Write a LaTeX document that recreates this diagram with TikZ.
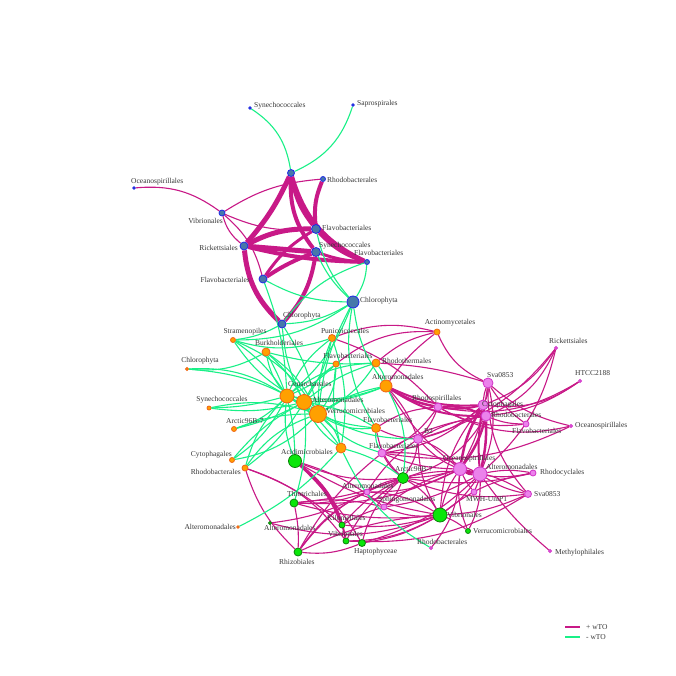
\documentclass[tikz,border=0pt]{standalone}
\usepackage{fontspec}
\setmainfont{Liberation Serif}
\pgfdeclarelayer{bg}
\pgfdeclarelayer{edges}
\pgfsetlayers{bg,edges,main}
\definecolor{pos}{RGB}{200,25,135}
\definecolor{neg}{RGB}{25,240,135}
\definecolor{bfill}{RGB}{70,120,170}
\definecolor{bdraw}{RGB}{30,40,230}
\definecolor{ofill}{RGB}{255,160,0}
\definecolor{odraw}{RGB}{240,100,20}
\definecolor{gfill}{RGB}{10,230,10}
\definecolor{gdraw}{RGB}{10,130,10}
\definecolor{pfill}{RGB}{235,130,235}
\definecolor{pdraw}{RGB}{210,50,200}
\definecolor{txt}{RGB}{55,55,55}
\begin{document}
\begin{tikzpicture}[x=1pt,y=-1pt,
  nd/.style={circle,inner sep=0pt,line width=0.8pt,minimum size=#1pt},
  nb/.style={nd=#1,fill=bfill,draw=bdraw},
  no/.style={nd=#1,fill=ofill,draw=odraw},
  ng/.style={nd=#1,fill=gfill,draw=gdraw},
  np/.style={nd=#1,fill=pfill,draw=pdraw},
  pe/.style={draw=pos,line width=1.1pt},
  ne/.style={draw=neg,line width=1.1pt},
  lbl/.style={font=\fontsize{7.5}{8}\selectfont,text=txt,inner sep=0pt}]
\begin{pgfonlayer}{bg}
\fill[white] (0,0) rectangle (676,676);
\end{pgfonlayer}
\useasboundingbox (0,0) rectangle (676,676);
% ---------- blue nodes
\node[nb=7] (bA) at (291,173) {};
\node[nb=2.5] (bSyn1) at (250,108) {};
\node[nb=2.5] (bSap) at (353,105) {};
\node[nb=2.5] (bOce) at (134,188) {};
\node[nb=5] (bRho) at (323,179) {};
\node[nb=6] (bVib) at (222,213) {};
\node[nb=9] (bFla1) at (316,229) {};
\node[nb=8] (bRic) at (244,246) {};
\node[nb=9] (bSyn2) at (316,252) {};
\node[nb=5] (bFla2) at (367,262) {};
\node[nb=8] (bFla3) at (263,279) {};
\node[nb=12] (bChl1) at (353,302) {};
\node[nb=8] (bChl2) at (282,324) {};
% ---------- orange nodes
\node[no=5] (oStr) at (233,340) {};
\node[no=8] (oBur) at (266,352) {};
\node[no=7] (oPun) at (332,338) {};
\node[no=3] (oChl) at (187,369) {};
\node[no=6] (oFla1) at (336,364) {};
\node[no=8] (oRht) at (376,363) {};
\node[no=6] (oAct) at (437,332) {};
\node[no=14] (oCen) at (287,396) {};
\node[no=15] (oAlt1) at (304,402) {};
\node[no=17] (oVer) at (318,414) {};
\node[no=12] (oAlt2) at (386,386) {};
\node[no=4] (oSyn) at (209,408) {};
\node[no=5] (oArc) at (234,429) {};
\node[no=9] (oFla2) at (376,428) {};
\node[no=10] (oX) at (341,448) {};
\node[no=5] (oCyt) at (232,460) {};
\node[no=6] (oRhb) at (245,468) {};
\node[no=2.5] (oAlt3) at (238,527) {};
% ---------- green nodes
\node[ng=13] (gAci) at (295,461) {};
\node[ng=8] (gThi) at (294,503) {};
\node[ng=3] (gAlt) at (270,523) {};
\node[ng=8] (gRhz) at (298,552) {};
\node[ng=6] (gKil) at (342,525) {};
\node[ng=6] (gVib1) at (346,541) {};
\node[ng=7] (gHap) at (362,543) {};
\node[ng=11] (gArc) at (403,478) {};
\node[ng=14] (gVib2) at (440,515) {};
\node[ng=5] (gVer) at (468,531) {};
% ---------- pink nodes
\node[np=10] (pSva1) at (488,383) {};
\node[np=8] (pRsp) at (438,407) {};
\node[np=10] (pCyt) at (483,405) {};
\node[np=10] (pRhb) at (486,416) {};
\node[np=6] (pFla1) at (526,424) {};
\node[np=3] (pRic) at (556,348) {};
\node[np=3] (pHTC) at (580,381) {};
\node[np=3] (pOce1) at (571,426) {};
\node[np=9] (pB2) at (418,439) {};
\node[np=8] (pFla2) at (382,453) {};
\node[np=13] (pOce2) at (460,469) {};
\node[np=14] (pAlt1) at (480,474) {};
\node[np=6] (pRcy) at (533,473) {};
\node[np=6] (pMWH) at (474,492) {};
\node[np=7] (pSva2) at (528,494) {};
\node[np=6] (pAlt2) at (367,492) {};
\node[np=6] (pSph) at (384,507) {};
\node[np=3] (pRhb2) at (431,548) {};
\node[np=3] (pMet) at (550,551) {};
% ---------- labels
\node[lbl,anchor=west] (t1) at (254,106) {Synechococcales};
\node[lbl,anchor=west] (t2) at (357,104) {Saprospirales};
\node[lbl,anchor=west] (t3) at (131,182) {Oceanospirillales};
\node[lbl,anchor=west] (t4) at (327,180) {Rhodobacterales};
\node[lbl,anchor=east] (t5) at (223,221) {Vibrionales};
\node[lbl,anchor=west] (t6) at (322,228) {Flavobacteriales};
\node[lbl,anchor=east] (t7) at (238,248) {Rickettsiales};
\node[lbl,anchor=west] (t8) at (319,246) {Synechococcales};
\node[lbl,anchor=west] (t9) at (354,253) {Flavobacteriales};
\node[lbl,anchor=east] (t10) at (250,280) {Flavobacteriales};
\node[lbl,anchor=west] (t11) at (360,301) {Chlorophyta};
\node[lbl,anchor=west] (t12) at (283,316) {Chlorophyta};
\node[lbl] (t13) at (245,332) {Stramenopiles};
\node[lbl] (t14) at (279,343) {Burkholderiales};
\node[lbl] (t15) at (345,331) {Puniceicoccales};
\node[lbl] (t16) at (200,361) {Chlorophyta};
\node[lbl] (t17) at (348,356) {Flavobacteriales};
\node[lbl,anchor=west] (t18) at (382,361) {Rhodothermales};
\node[lbl] (t19) at (450,323) {Actinomycetales};
\node[lbl,anchor=west] (t20) at (288,384) {Cenarchaeales};
\node[lbl,anchor=west] (t21) at (312,400) {Alteromonadales};
\node[lbl,anchor=west] (t22) at (326,411) {Verrucomicrobiales};
\node[lbl,anchor=west] (t23) at (372,377) {Alteromonadales};
\node[lbl] (t24) at (222,400) {Synechococcales};
\node[lbl,anchor=west] (t25) at (226,421) {Arctic96B-7};
\node[lbl,anchor=west] (t26) at (363,420) {Flavobacteriales};
\node[lbl,anchor=east] (t27) at (232,455) {Cytophagales};
\node[lbl,anchor=east] (t28) at (241,472) {Rhodobacterales};
\node[lbl,anchor=east] (t29) at (236,527) {Alteromonadales};
\node[lbl,anchor=west] (t30) at (281,452) {Acidimicrobiales};
\node[lbl,anchor=west] (t31) at (287,494) {Thiotrichales};
\node[lbl,anchor=west] (t32) at (264,528) {Alteromonadales};
\node[lbl,anchor=west] (t33) at (327,518) {Kiloniellales};
\node[lbl,anchor=west] (t34) at (328,534) {Vibrionales};
\node[lbl,anchor=west] (t35) at (354,552) {Haptophyceae};
\node[lbl,anchor=west] (t36) at (279,562) {Rhizobiales};
\node[lbl,anchor=west] (t37) at (395,469) {Arctic96B-7};
\node[lbl,anchor=west] (t38) at (447,515) {Vibrionales};
\node[lbl,anchor=west] (t39) at (473,531) {Verrucomicrobiales};
\node[lbl,anchor=west] (t40) at (487,375) {Sva0853};
\node[lbl,anchor=west] (t41) at (412,399) {Rhodospirillales};
\node[lbl,anchor=west] (t42) at (482,405) {Cytophagales};
\node[lbl,anchor=west] (t43) at (491,415) {Rhodobacterales};
\node[lbl,anchor=west] (t44) at (512,431) {Flavobacteriales};
\node[lbl,anchor=west] (t45) at (549,341) {Rickettsiales};
\node[lbl,anchor=west] (t46) at (575,373) {HTCC2188};
\node[lbl,anchor=west] (t47) at (575,426) {Oceanospirillales};
\node[lbl,anchor=west] (t48) at (424,431) {B2};
\node[lbl,anchor=west] (t49) at (369,446) {Flavobacteriales};
\node[lbl,anchor=west] (t50) at (443,459) {Oceanospirillales};
\node[lbl,anchor=west] (t51) at (486,467) {Alteromonadales};
\node[lbl,anchor=west] (t52) at (540,473) {Rhodocyclales};
\node[lbl,anchor=west] (t53) at (466,499) {MWH-UniP1};
\node[lbl,anchor=west] (t54) at (534,494) {Sva0853};
\node[lbl,anchor=west] (t55) at (342,486) {Alteromonadales};
\node[lbl,anchor=west] (t56) at (378,500) {Sphingomonadales};
\node[lbl,anchor=west] (t57) at (417,542) {Rhodobacterales};
\node[lbl,anchor=west] (t58) at (555,553) {Methylophilales};
% ---------- legend
\coordinate (lp1) at (565,627); \coordinate (lp2) at (580,627);
\coordinate (ln1) at (565,637); \coordinate (ln2) at (580,637);
\draw[pe] (lp1) -- (lp2);
\draw[ne] (ln1) -- (ln2);
\node[lbl,anchor=west] (lg1) at (586,627) {+ wTO};
\node[lbl,anchor=west] (lg2) at (586,637) {- wTO};
% ---------- edges
\begin{pgfonlayer}{edges}
% thick positive, blue cluster
\foreach \a/\b/\w/\k in {bA/bRic/5/8, bA/bFla1/4/-14, bA/bSyn2/4/-20, bA/bFla2/4/-24,
  bRho/bFla1/4/-14, bRic/bFla1/5/14, bRic/bSyn2/5/0, bRic/bFla2/4/-6, bRic/bChl2/5/-20,
  bFla3/bFla1/3/12, bFla3/bSyn2/4/6, bSyn2/bChl2/4/16, bFla1/bFla2/4/-14, bSyn2/bFla2/3/-8}
  \draw[pe,line width=\w pt] (\a) to[bend left=\k] (\b);
% thin positive
\foreach \a/\b/\k in {bOce/bVib/12, bVib/bRho/8, bVib/bFla1/-8, bVib/bRic/-10, bVib/bFla3/10,
  oPun/oAct/10, oPun/pRsp/8, oFla1/oAct/12, oRht/oAct/8, oAlt2/oAct/5, oAct/pSva1/-12,
  oRht/pSva1/4, oFla2/pB2/-6, oFla2/pRsp/8, oFla2/gArc/-10, oAlt2/pB2/6, oAlt2/pOce2/-6,
  oRhb/gRhz/-8, oRhb/gKil/6, oRhb/gVib1/10,
  gAci/gVib2/-6, gAci/gHap/4, gAci/gArc/-8, gAci/pSph/6,
  gThi/gRhz/4, gThi/gVib2/-6, gThi/gArc/-4, gThi/pAlt2/-6, gThi/pSph/6, gThi/pOce2/-8,
  gAlt/gVib2/-10, gAlt/pAlt2/-6,
  gRhz/gArc/10, gRhz/gVib2/6, gRhz/pAlt2/8, gRhz/pFla2/6, gRhz/gHap/-8,
  gKil/gArc/6, gKil/gVib2/-6, gKil/pSph/4,
  gVib1/gVib2/-8, gVib1/gArc/8, gVib1/pSva2/-10,
  gHap/gVib2/-6, gHap/gArc/10, gHap/pAlt1/-8,
  gArc/pFla2/6, gArc/pAlt2/-6, gArc/pSph/8, gArc/pB2/-8, gArc/pOce2/-4, gArc/pAlt1/6,
  gArc/gVib2/8, gArc/pRhb/-12, gArc/pSva2/-8, gArc/pRcy/-6,
  gVib2/gVer/5, gVib2/pOce2/6, gVib2/pAlt1/-6, gVib2/pB2/8, gVib2/pSva2/-6, gVib2/pRcy/8,
  gVib2/pAlt2/-8, gVib2/pSph/8, gVib2/pCyt/10,
  pSph/pAlt1/-6, pSph/pOce2/6, pAlt2/pOce2/-8, pAlt2/pB2/6,
  pFla2/pOce2/-6, pFla2/pAlt1/8, pFla2/pRsp/-8, pFla2/pCyt/-10, pFla2/pRhb/6,
  pB2/pCyt/-8, pB2/pRhb/6, pB2/pOce2/8, pB2/pAlt1/-10, pB2/pRsp/-6,
  pRsp/pFla1/-10, pRsp/pOce1/-12, pRsp/pHTC/-12,
  pCyt/pRic/-10, pCyt/pHTC/-12, pCyt/pSva1/-8,
  pRhb/pFla1/-6, pRhb/pRic/-12, pRhb/pHTC/-8,
  pSva1/pOce1/-8, pSva1/pFla1/-6, pSva1/pAlt1/10, pSva1/pOce2/6, pSva1/pRhb/-10, pSva1/pSva2/-12,
  pOce2/pRcy/-8, pOce2/pSva2/6, pOce2/pMWH/-4, pOce2/pRhb2/10, pOce2/gVer/-8,
  pAlt1/pRcy/6, pAlt1/pSva2/-6, pAlt1/pMWH/4, pAlt1/pMet/-4, pAlt1/gVer/8, pAlt1/pRic/-10,
  pOce1/pFla2/10, pRic/pB2/10}
  {\pgfmathsetmacro\kk{1.7*\k}
  \draw[pe] (\a) to[bend left=\kk] (\b);}
% medium positive
\foreach \a/\b/\w/\k in {oAlt2/pRsp/2.5/-6, oAlt2/pCyt/2/-8, oAlt2/pRhb/2/-10,
  gAci/gKil/2.5/8, gAci/gVib1/2/12, pRsp/pCyt/2/-6, pRsp/pRhb/2/8,
  pCyt/pOce2/2.5/-6, pCyt/pAlt1/2/-4, pRhb/pOce2/2.5/6, pRhb/pAlt1/2.5/4, pOce2/pAlt1/2/-10}
  {\pgfmathsetmacro\kk{1.7*\k}
  \draw[pe,line width=\w pt] (\a) to[bend left=\kk] (\b);}
% negative
\foreach \a/\b/\k in {bA/bSyn1/-14, bA/bSap/-14,
  bFla1/bChl1/-8, bSyn2/bChl1/-6, bFla2/bChl1/8, bFla2/bChl2/-10, bFla3/bChl1/-8, bFla3/oCen/5,
  bChl2/oStr/6, bChl2/oAlt1/-6, bChl2/oVer/6, bChl1/oStr/10, bChl1/oAlt2/-8, bChl1/oVer/-6,
  bChl1/oFla2/-12, bChl1/oCen/8, bChl2/bChl1/-8,
  oStr/oPun/-10, oStr/oCen/6, oStr/oAlt1/-8, oStr/oVer/10,
  oChl/oBur/-10, oChl/oCen/10, oChl/oVer/8,
  oBur/oRht/-5, oBur/oCen/-8, oBur/oVer/8, oBur/oAlt1/6, oBur/gAci/8,
  oPun/oCen/-8, oPun/oAlt1/6, oPun/oVer/-6, oPun/oX/8,
  oFla1/oCen/6, oFla1/oAlt1/-8, oFla1/oVer/10, oFla1/oX/-6,
  oRht/oAlt1/-6, oRht/oVer/8, oRht/oCen/-10, oRht/oAlt2/8,
  oAlt2/oCen/8, oAlt2/oVer/-6, oAlt2/oAlt1/6, oAlt2/gArc/10,
  oSyn/oAlt1/-6, oSyn/oVer/8, oSyn/oCen/-4,
  oArc/oCen/-8, oArc/oVer/6, oArc/oAlt1/-4,
  oCyt/oCen/-8, oCyt/oAlt1/6, oCyt/oVer/-10,
  oRhb/oCen/8, oRhb/oAlt1/-6, oRhb/oVer/10,
  oFla2/oCen/8, oFla2/oAlt1/-6, oFla2/oVer/10, oFla2/pFla2/-10,
  oX/oCen/-6, oX/oAlt1/8, oX/oVer/-10, oX/oAlt3/6, oX/pRhb2/-10, oX/gArc/6,
  gAci/oCen/8, gThi/oAlt1/-6, oVer/pFla2/-8, oAlt1/pB2/-10}
  {\pgfmathsetmacro\kk{1.7*\k}
  \draw[ne] (\a) to[bend left=\kk] (\b);}
\end{pgfonlayer}
\end{tikzpicture}
\end{document}
